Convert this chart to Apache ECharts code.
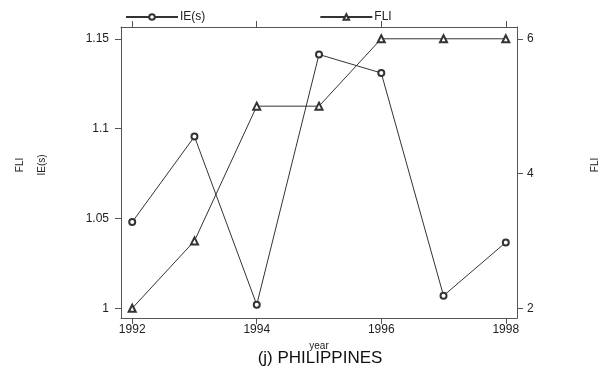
<!DOCTYPE html>
<html><head><meta charset="utf-8">
<script src="https://cdn.jsdelivr.net/npm/echarts@6/dist/echarts.min.js"></script>
<style>html,body{margin:0;padding:0;background:#fff}#c{width:608px;height:375px}</style>
</head><body><div id="c"></div>
<script>
const years = [1992, 1993, 1994, 1995, 1996, 1997, 1998];
const ieValues = [1.048, 1.0956, 1.002, 1.1413, 1.131, 1.007, 1.0367];
const fliValues = [2, 3, 5, 5, 6, 6, 6];
const xTicks = [1992, 1994, 1996, 1998];
const leftTicks = [1, 1.05, 1.1, 1.15];
const rightTicks = [2, 4, 6];

const font = 'Liberation Sans, Arial, sans-serif';
const axisCol = '#555';
const chart = echarts.init(document.getElementById('c'));
const tickStyle = {show: true, inside: false, length: 6, lineStyle: {color: axisCol, width: 1}};
chart.setOption({
  animation: false,
  grid: {left: 121, right: 91, top: 27, bottom: 57, containLabel: false},
  legend: {
    top: 6, left: 120, itemGap: 114, itemWidth: 52, itemHeight: 7,
    textStyle: {fontFamily: font, fontSize: 12, color: '#222', padding: [0,0,0,-3]},
    data: ['IE(s)', 'FLI']
  },
  xAxis: [{
    type: 'value', min: 1991.82, max: 1998.18, position: 'bottom',
    name: 'year', nameLocation: 'middle', nameGap: 19,
    nameTextStyle: {fontFamily: font, fontSize: 10, color: '#222'},
    axisLine: {show: true, onZero: false, lineStyle: {color: axisCol}},
    axisTick: Object.assign({customValues: xTicks}, tickStyle),
    axisLabel: {customValues: xTicks, fontFamily: font, fontSize: 12, color: '#222', margin: 6,
      formatter: v => String(v)},
    splitLine: {show: false}
  }, {
    type: 'value', min: 1991.82, max: 1998.18, position: 'top',
    axisLine: {show: true, onZero: false, lineStyle: {color: axisCol}},
    axisTick: Object.assign({customValues: xTicks}, tickStyle),
    axisLabel: {show: false},
    splitLine: {show: false}
  }],
  yAxis: [{
    type: 'value', min: 0.9946, max: 1.1566, position: 'left',
    axisLine: {show: true, onZero: false, lineStyle: {color: axisCol}},
    axisTick: Object.assign({customValues: leftTicks}, tickStyle),
    axisLabel: {customValues: leftTicks, fontFamily: font, fontSize: 12, color: '#222', margin: 12,
      formatter: v => String(Math.round(v*100)/100)},
    splitLine: {show: false}
  }, {
    type: 'value', min: 1.856, max: 6.175, position: 'right',
    axisLine: {show: true, onZero: false, lineStyle: {color: axisCol}},
    axisTick: Object.assign({customValues: rightTicks}, tickStyle),
    axisLabel: {customValues: rightTicks, fontFamily: font, fontSize: 12, color: '#222', margin: 10},
    splitLine: {show: false}
  }],
  series: [{
    name: 'IE(s)', type: 'line', xAxisIndex: 0, yAxisIndex: 0,
    data: years.map((y, i) => [y, ieValues[i]]),
    symbol: 'emptyCircle', symbolSize: 6,
    lineStyle: {color: '#333', width: 1}, itemStyle: {color: '#333', borderColor: '#333', borderWidth: 1}
  }, {
    name: 'FLI', type: 'line', xAxisIndex: 0, yAxisIndex: 1,
    data: years.map((y, i) => [y, fliValues[i]]),
    symbol: 'emptyTriangle', symbolSize: 7,
    lineStyle: {color: '#333', width: 1}, itemStyle: {color: '#333', borderColor: '#333', borderWidth: 1}
  }],
  graphic: [
    {type: 'text', x: 20, y: 165, rotation: Math.PI/2, style: {text: 'FLI', font: '10px ' + font, fill: '#222', align: 'center', verticalAlign: 'middle'}},
    {type: 'text', x: 42, y: 165, rotation: Math.PI/2, style: {text: 'IE(s)', font: '10px ' + font, fill: '#222', align: 'center', verticalAlign: 'middle'}},
    {type: 'text', x: 595, y: 165, rotation: Math.PI/2, style: {text: 'FLI', font: '10px ' + font, fill: '#222', align: 'center', verticalAlign: 'middle'}},
    {type: 'text', x: 320, y: 358, style: {text: '(j) PHILIPPINES', font: '17px ' + font, fill: '#111', align: 'center', verticalAlign: 'middle'}}
  ]
});
</script></body></html>
